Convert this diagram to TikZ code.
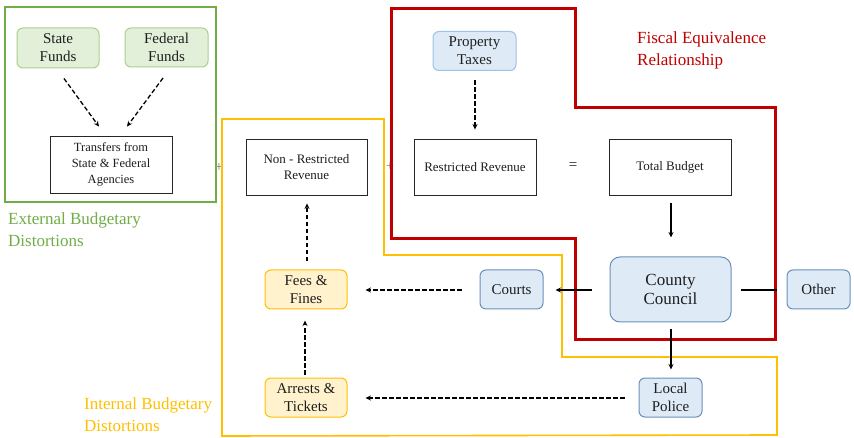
\documentclass[tikz,border=0pt]{standalone}
\usepackage{fontspec}
\setmainfont{Liberation Serif}
\usetikzlibrary{arrows.meta,calc}
\definecolor{gframe}{HTML}{70AD47}
\definecolor{gfill}{HTML}{E2F0D9}
\definecolor{gline}{HTML}{A9D18E}
\definecolor{bfill}{HTML}{DEEBF7}
\definecolor{bline}{HTML}{9DC3E6}
\definecolor{bdark}{HTML}{6A8FB8}
\definecolor{yfill}{HTML}{FFF2CC}
\definecolor{yline}{HTML}{FFC000}
\definecolor{rline}{HTML}{C00000}
\definecolor{txt}{HTML}{1E1E1E}
\tikzset{
  plainbox/.style={draw=black!85, line width=0.9pt, align=center, text=txt, inner sep=1pt,
    font=\fontsize{13}{16}\selectfont},
  greenbox/.style={draw=gline, fill=gfill, line width=1pt, rounded corners=6pt, align=center,
    text=txt, font=\fontsize{15}{18}\selectfont, minimum width=82pt, minimum height=40pt},
  bluebox/.style={draw=bdark, fill=bfill, line width=1pt, rounded corners=6pt, align=center,
    text=txt, font=\fontsize{15}{18}\selectfont, minimum width=63pt, minimum height=39pt},
  yellowbox/.style={draw=yline, fill=yfill, line width=1pt, rounded corners=6pt, align=center,
    text=txt, font=\fontsize{15}{18}\selectfont, minimum width=82pt, minimum height=39pt},
  dasharrow/.style={line width=1.3pt, dash pattern=on 4.5pt off 2.5pt, -{Stealth[length=5.5pt,width=5pt]}},
  solidarrow/.style={line width=1.3pt, -{Stealth[length=5.5pt,width=5pt]}},
  framelabel/.style={anchor=north west, align=left, inner sep=0pt, font=\fontsize{17}{21.5}\selectfont}
}
\begin{document}
\begin{tikzpicture}[x=1pt,y=-1pt]
\useasboundingbox[fill=white] (0,0) rectangle (854,438);

% plus and equals signs (behind frames)
\node[text=black!55, font=\fontsize{14}{14}\selectfont, inner sep=0pt] (plusa) at (219,168) {+};
\node[text=black!55, font=\fontsize{14}{14}\selectfont, inner sep=0pt] (plusb) at (390,167) {+};
\node[text=txt, font=\fontsize{15}{15}\selectfont, inner sep=0pt] (eqs) at (573,166) {=};

% frames
\draw[gframe, line width=1.6pt] (5,7) rectangle (216,202);
\draw[yline, line width=1.6pt] (222,119) -- (384,119) -- (384,255) -- (562,255) -- (562,357)
  -- (777,357) -- (777,435) -- (222,436) -- cycle;
\draw[rline, line width=3pt] (391,9) -- (575,9) -- (575,108) -- (775,108) -- (775,339)
  -- (575,339) -- (575,239) -- (391,239) -- cycle;

% frame labels
\node[framelabel, text=gframe] (extl) at (8,213) {External Budgetary\\Distortions};
\node[framelabel, text=rline] (fisl) at (637,32) {Fiscal Equivalence\\Relationship};
\node[framelabel, text=yline] (intl) at (84,398) {Internal Budgetary\\Distortions};

% nodes
\node[greenbox] (sf) at (58,48) {State\\Funds};
\node[greenbox, minimum width=83pt, minimum height=39pt] (ff) at (166.5,47.5) {Federal\\Funds};
\node[plainbox, minimum width=122pt, minimum height=57pt, font=\fontsize{12.5}{16}\selectfont] (tr) at (111,164.5)
  {Transfers from\\State \& Federal\\Agencies};
\node[plainbox, minimum width=121pt, minimum height=56pt] (nr) at (306.5,167) {Non - Restricted\\Revenue};
\node[bluebox, draw=bline, minimum width=83pt] (pt) at (474.5,51) {Property\\Taxes};
\node[plainbox, minimum width=122pt, minimum height=56pt] (rr) at (475,167) {Restricted Revenue};
\node[plainbox, minimum width=122pt, minimum height=56pt] (tb) at (670,167) {Total Budget};
\node[bluebox, minimum width=121pt, minimum height=65pt, rounded corners=10pt,
  font=\fontsize{17}{19.5}\selectfont] (cc) at (670.5,289.5) {County\\Council};
\node[bluebox] (co) at (511.5,289.5) {Courts};
\node[bluebox] (ot) at (818.5,289.5) {Other};
\node[bluebox] (lp) at (670.5,397.5) {Local\\Police};
\node[yellowbox] (fe) at (306,289.5) {Fees \&\\Fines};
\node[yellowbox] (ar) at (306,397.5) {Arrests \&\\Tickets};

% connectors
\draw[dasharrow] ($(sf.south)+(6,10)$) -- ($(tr.north)+(-12,-9)$);
\draw[dasharrow] ($(ff.south)+(-3.5,10.5)$) -- ($(tr.north)+(16,-9)$);
\draw[dasharrow] ($(pt.south)+(0.5,9.5)$) -- ($(rr.north)+(0,-9)$);
\draw[solidarrow] ($(tb.south)+(1,8)$) -- ($(cc.north)+(0.5,-19)$);
\draw[solidarrow] ($(cc.west)+(-18,0.5)$) -- ($(co.east)+(12,0.5)$);
\draw[line width=1.3pt] ($(cc.east)+(9,0.5)$) -- ($(ot.west)+(-10,0.5)$);
\draw[solidarrow] ($(cc.south)+(0.5,6)$) -- ($(lp.north)+(0.5,-8)$);
\draw[dasharrow] ($(co.west)+(-18,0.5)$) -- ($(fe.east)+(18,0.5)$);
\draw[dasharrow] ($(lp.west)+(-14,0.5)$) -- ($(ar.east)+(18,0.5)$);
\draw[dasharrow] ($(ar.north)+(-1,-3)$) -- ($(fe.south)+(-1,11)$);
\draw[dasharrow] ($(fe.north)+(1,-8)$) -- ($(nr.south)+(0.5,8)$);
\end{tikzpicture}
\end{document}
